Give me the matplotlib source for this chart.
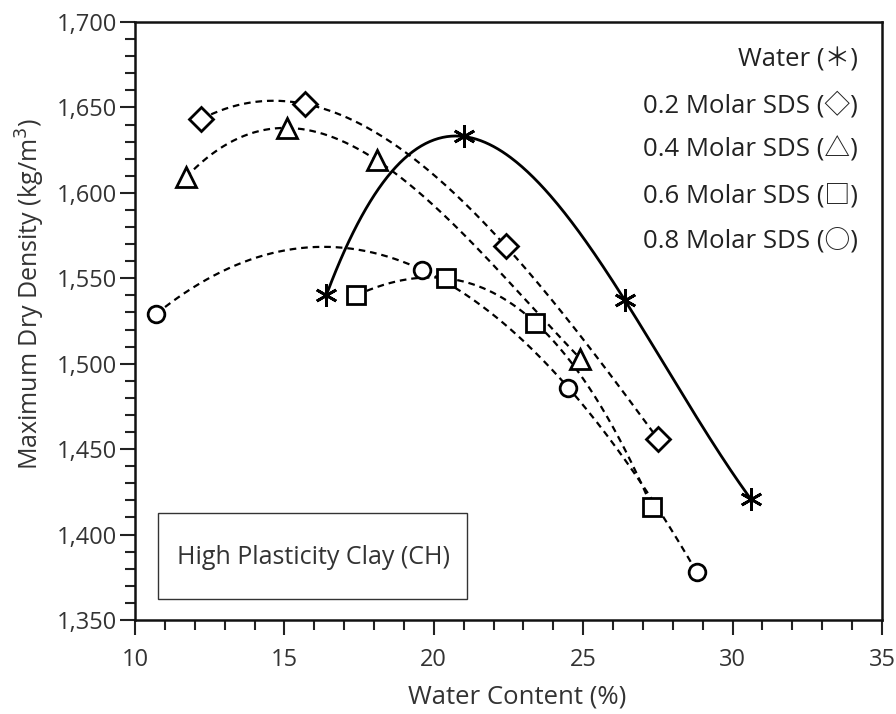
import numpy as np
import matplotlib
matplotlib.use("Agg")
import matplotlib.pyplot as plt
from matplotlib.ticker import MultipleLocator, FuncFormatter
from matplotlib.patches import Rectangle

plt.rcParams['font.family'] = ['Open Sans', 'Noto Sans CJK JP', 'DejaVu Sans']

# Data (water content %, max dry density kg/m3)
water_x = [16.4, 21.0, 26.4, 30.6]
water_y = [1540, 1633, 1537, 1421]
sds02_x = [12.2, 15.7, 22.4, 27.5]
sds02_y = [1643, 1652, 1569, 1456]
sds04_x = [11.7, 15.1, 18.1, 24.9]
sds04_y = [1609, 1638, 1619, 1503]
sds06_x = [17.4, 20.4, 23.4, 27.3]
sds06_y = [1540, 1550, 1524, 1416]
sds08_x = [10.7, 19.6, 24.5, 28.8]
sds08_y = [1529, 1555, 1486, 1378]

legend_labels = ["Water (\uff0a)", "0.2 Molar SDS (\u25c7)", "0.4 Molar SDS (\u25b3)",
                 "0.6 Molar SDS (\u25a1)", "0.8 Molar SDS (\u25cb)"]

fig = plt.figure(figsize=(8.96, 7.14), dpi=100)
ax = fig.add_axes([135/896, 1 - 620/714, (882-135)/896, (620-22)/714])


def smooth(x, y):
    c = np.polyfit(x, y, len(x) - 1)
    xs = np.linspace(min(x), max(x), 300)
    return xs, np.polyval(c, xs)


series = [
    (water_x, water_y, (6, 2, 0), 16, '-', 2.0),
    (sds02_x, sds02_y, 'D', 12, (0, (3, 2.2)), 1.6),
    (sds04_x, sds04_y, '^', 14, (0, (3, 2.2)), 1.6),
    (sds06_x, sds06_y, 's', 13, (0, (3, 2.2)), 1.6),
    (sds08_x, sds08_y, 'o', 12, (0, (3, 2.2)), 1.6),
]

for x, y, m, ms, ls, lw in series:
    xs, ys = smooth(x, y)
    ax.plot(xs, ys, color='black', linestyle=ls, linewidth=lw, zorder=2)
    ax.plot(x, y, linestyle='none', marker=m, markersize=ms, markerfacecolor='white',
            markeredgecolor='black', markeredgewidth=2.0, zorder=3)

ax.set_xlim(10, 35)
ax.set_ylim(1350, 1700)
ax.xaxis.set_major_locator(MultipleLocator(5))
ax.xaxis.set_minor_locator(MultipleLocator(1))
ax.yaxis.set_major_locator(MultipleLocator(50))
ax.yaxis.set_minor_locator(MultipleLocator(10))
ax.yaxis.set_major_formatter(FuncFormatter(lambda v, p: f"{int(v):,}"))
ax.tick_params(which='major', length=11, width=1.5, labelsize=17, color='#222222', labelcolor='#333333')
ax.tick_params(which='minor', length=7, width=1.5, color='#222222')
ax.tick_params(axis='x', pad=9)
ax.tick_params(axis='y', pad=2)
for s in ax.spines.values():
    s.set_linewidth(1.8)
    s.set_color('#111111')

ax.set_xlabel("Water Content (%)", fontsize=18.5, color='#333333')
ax.xaxis.set_label_coords((517-135)/747, -(697-620)/598)
ax.set_ylabel("Maximum Dry Density (kg/m$^3$)", fontsize=18, color='#333333')
ax.yaxis.set_label_coords(-(135-30)/747, 1-(294-22)/598)
ax.xaxis.label.set_va('center')
ax.yaxis.label.set_va('center')

legend_y = [60, 105, 150, 196, 241]
for lab, py in zip(legend_labels, legend_y):
    ax.text(858/896, 1 - py/714, lab, transform=fig.transFigure, ha='right', va='center',
            fontsize=18.5, color='#222222')

rect = Rectangle((158/896, 1 - 599/714), (467-158)/896, (599-513)/714, transform=fig.transFigure,
                 fill=False, edgecolor='#333333', linewidth=1.0, zorder=5)
fig.patches.append(rect)
fig.text(313/896, 1 - 558/714, "High Plasticity Clay (CH)", ha='center', va='center',
         fontsize=18, color='#333333')

fig.savefig("out.png", dpi=100)
